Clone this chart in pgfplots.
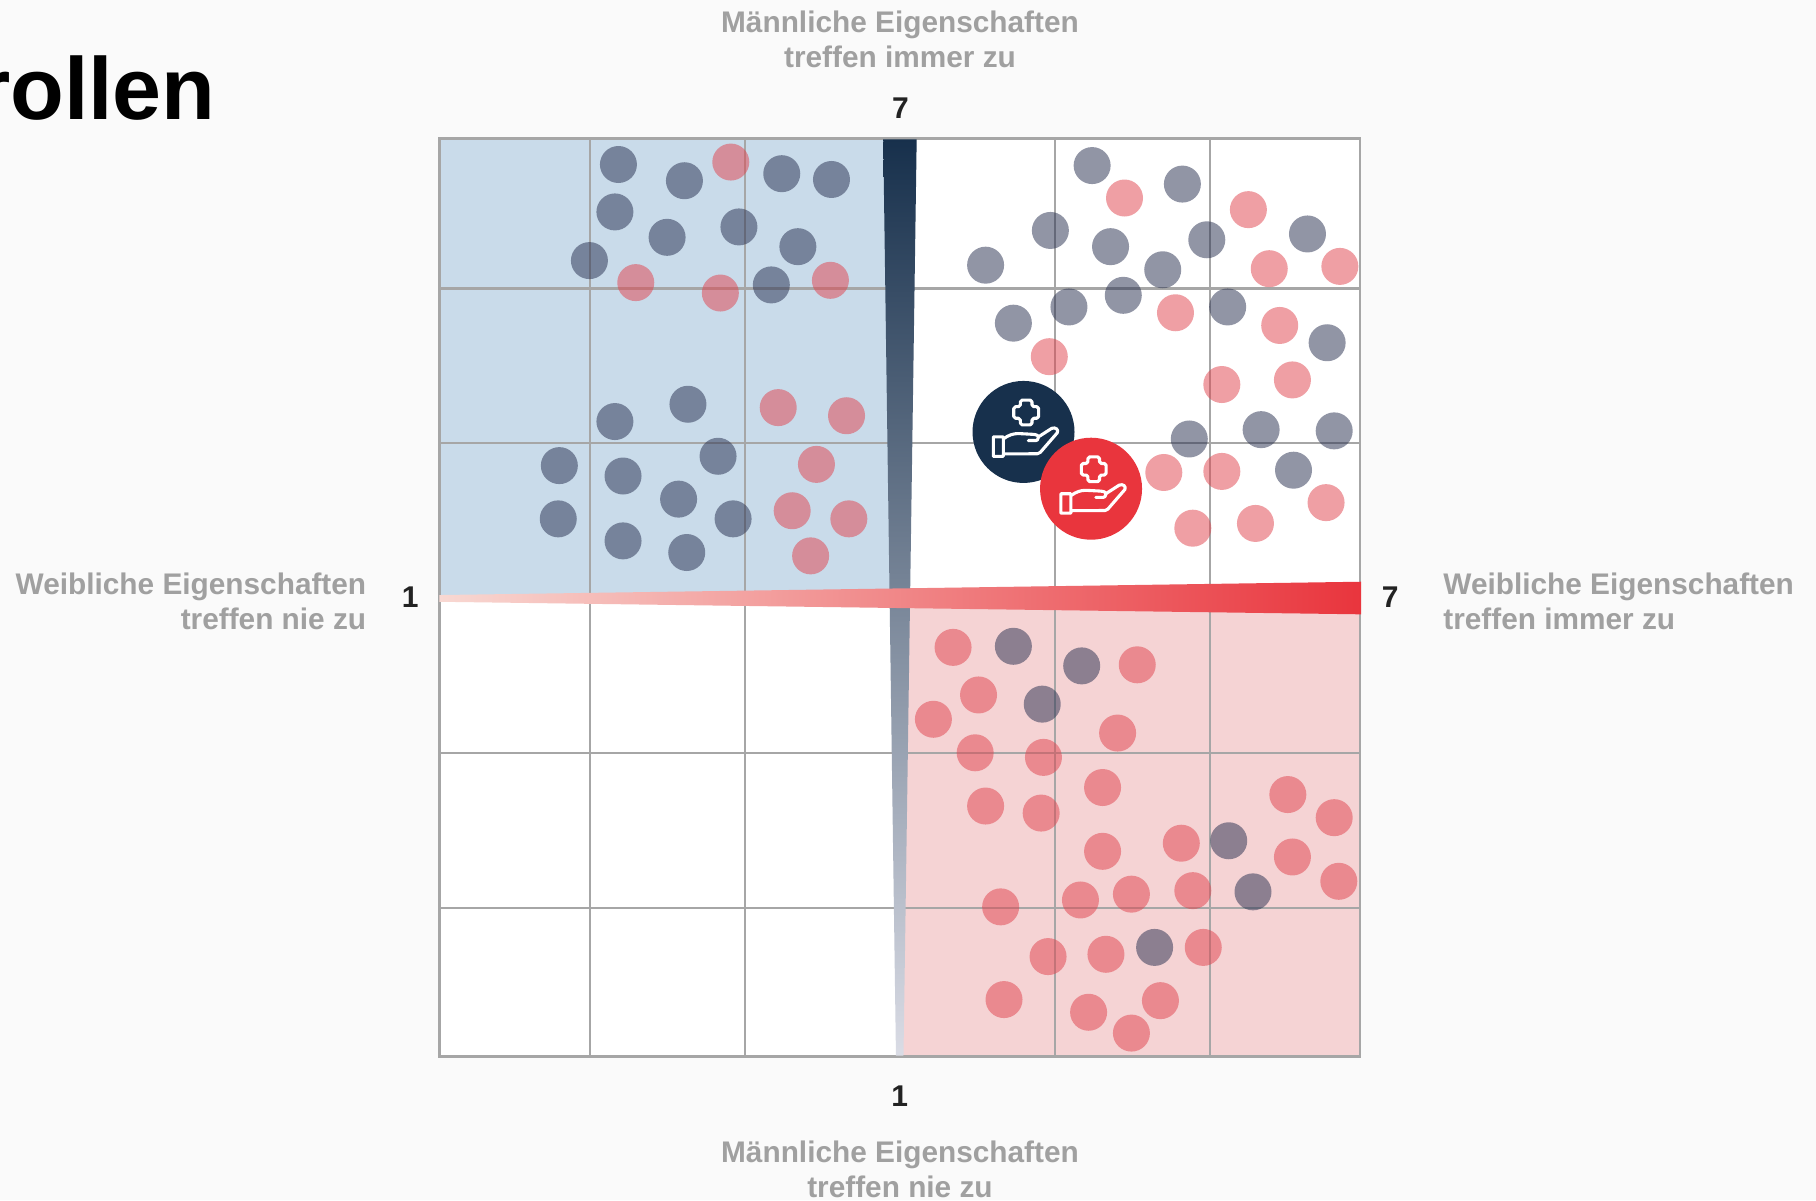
\documentclass[border=0pt]{standalone}
\usepackage{fontspec}
\setmainfont{Liberation Sans}
\usepackage{pgfplots}
\pgfplotsset{compat=1.18}
\definecolor{bg}{HTML}{FAFAFA}
\definecolor{navy}{HTML}{17304C}
\definecolor{rd}{HTML}{E9353D}
\definecolor{dotdark}{HTML}{252D4D}
\definecolor{dotred}{HTML}{E1414B}
\definecolor{bluearea}{HTML}{C9DBEA}
\definecolor{pinkarea}{HTML}{F5D3D4}
\definecolor{gridc}{HTML}{A6A6A6}
\definecolor{lab}{HTML}{A0A0A0}
\definecolor{num}{HTML}{222222}
\definecolor{peach}{HTML}{F8D8D2}
\definecolor{fade}{HTML}{DADCE5}
\pgfdeclareplotmark{disc}{\pgfpathcircle{\pgfpointorigin}{\pgfplotmarksize}\pgfusepathqfill}
\pgfdeclareplotmark{handicon}{%
  \draw[x=1pt,y=1pt,white,line width=1.55pt,line join=round,line cap=round,fill=none,rounded corners=0.9pt]
    (1.33-2.9,9.83+6.1) -- ++(5.8,0) -- ++(0,-3.3) -- ++(3.3,0) -- ++(0,-5.8) -- ++(-3.3,0) -- ++(0,-3.3)
    -- ++(-5.8,0) -- ++(0,3.3) -- ++(-3.3,0) -- ++(0,5.8) -- ++(3.3,0) -- cycle;
  \draw[x=1pt,y=1pt,white,line width=1.55pt,line join=round,line cap=round,fill=none]
    (-15.1,-2.5) rectangle (-10.1,-12.2)
    (-10.1,-3.5) .. controls (-7.5,-1.5) and (-5,-0.8) .. (-2.6,-0.8)
    -- (4.9,-1.2) .. controls (7,-1.4) and (7.8,-2.2) .. (7.4,-2.8)
    .. controls (7.2,-3.9) and (6.8,-4.3) .. (6.2,-4.3) -- (2.4,-4.3)
    (7.4,-2.5) -- (14.1,1.8) .. controls (16.2,2.6) and (17.6,1) .. (16.9,-0.4)
    -- (8.4,-10.2) .. controls (8,-10.7) and (7.6,-10.9) .. (7,-10.9) -- (-10.1,-11);
}
\pgfplotstableread{
x y
2.167 6.830
2.597 6.724
3.231 6.770
3.555 6.732
2.144 6.520
2.484 6.354
2.952 6.422
3.336 6.293
1.978 6.202
3.163 6.043
2.144 5.150
2.620 5.263
1.782 4.862
2.197 4.794
2.816 4.923
2.559 4.643
1.775 4.514
2.197 4.370
2.612 4.294
2.914 4.514
5.253 6.823
5.841 6.702
4.559 6.172
4.981 6.399
5.373 6.293
6.000 6.338
6.656 6.376
5.713 6.142
5.456 5.975
5.102 5.899
4.740 5.793
6.136 5.899
6.784 5.665
6.354 5.097
6.830 5.089
5.886 5.036
6.565 4.832
4.740 3.681
5.185 3.553
4.928 3.303
6.143 2.410
6.301 2.076
5.660 1.713
}\darkdots
\pgfplotstableread{
x y
2.899 6.846
2.280 6.058
2.831 5.990
3.548 6.073
3.208 5.241
3.653 5.188
3.457 4.870
3.299 4.567
3.668 4.514
3.419 4.272
5.464 6.611
6.271 6.535
6.407 6.149
6.867 6.164
5.796 5.861
6.475 5.778
4.974 5.574
6.098 5.392
6.558 5.422
5.720 4.817
6.098 4.824
6.777 4.620
5.909 4.453
6.317 4.484
4.347 3.674
5.547 3.560
4.513 3.363
4.219 3.204
5.419 3.114
4.491 2.985
4.936 2.955
5.321 2.758
4.559 2.637
4.921 2.591
6.528 2.712
6.830 2.561
5.834 2.394
5.321 2.341
6.558 2.304
6.860 2.145
5.909 2.084
5.509 2.061
5.177 2.023
4.657 1.978
5.977 1.713
4.966 1.653
5.343 1.668
4.679 1.372
5.698 1.365
5.230 1.289
5.509 1.153
}\reddots
\begin{document}
\begin{tikzpicture}[x=1pt,y=1pt]
\useasboundingbox (0,0) rectangle (908,600);
\fill[bg] (0,0) rectangle (908,600);
\begin{axis}[
  at={(219.65pt,71.75pt)},anchor=south west,
  scale only axis,width=460.5pt,height=459pt,
  xmin=1,xmax=7,ymin=1,ymax=7,
  xtick=\empty,ytick=\empty,
  clip=false,
  axis line style={draw=none},
  axis background/.style={fill=white},
  unbounded coords=jump,
]
% shaded quadrants
\addplot[fill=bluearea,draw=none,forget plot] coordinates {(1,4)(4,4)(4,7)(1,7)} -- cycle;
\addplot[fill=pinkarea,draw=none,forget plot] coordinates {(4,1)(7,1)(7,4)(4,4)} -- cycle;
% grid and frame
\addplot[gridc,line width=1.2pt,forget plot] coordinates {(1.98,1)(1.98,7)(nan,nan)(2.99,1)(2.99,7)(nan,nan)(5.01,1)(5.01,7)(nan,nan)(6.02,1)(6.02,7)(nan,nan)
  (1,1.97)(7,1.97)(nan,nan)(1,2.985)(7,2.985)(nan,nan)(1,5.01)(7,5.01)(nan,nan)(1,6.02)(7,6.02)};
\addplot[gridc,line width=1.2pt,forget plot] coordinates {(1,1)(7,1)(7,7)(1,7)} -- cycle;
% wedges
\addplot[draw=none,top color=navy,bottom color=fade,forget plot] coordinates {(3.892,6.995)(4.110,6.995)(4.024,1.005)(3.975,1.005)} -- cycle;
\addplot[draw=none,left color=peach,right color=rd,forget plot] coordinates {(1,4.016)(7.005,4.103)(7.005,3.890)(1,3.972)} -- cycle;
% dots
\addplot[only marks,mark=disc,mark size=9.25pt,mark options={fill=dotdark,fill opacity=0.5}] table[x=x,y=y] {\darkdots};
\addplot[only marks,mark=disc,mark size=9.25pt,mark options={fill=dotred,fill opacity=0.5}] table[x=x,y=y] {\reddots};
% big markers
\addplot[only marks,mark=disc,mark size=25.5pt,mark options={fill=navy}] coordinates {(4.806,5.082)};
\addplot[only marks,mark=disc,mark size=25.5pt,mark options={fill=rd}] coordinates {(5.246,4.711)};
\addplot[only marks,mark=handicon] coordinates {(4.806,5.082)(5.246,4.711)};
% scale labels
\node[num,font=\fontsize{15}{15}\selectfont\bfseries] at (axis cs:4.005,7) [yshift=15pt] {7};
\node[num,font=\fontsize{15}{15}\selectfont\bfseries] at (axis cs:4,1) [yshift=-20pt] {1};
\node[num,font=\fontsize{15}{15}\selectfont\bfseries] at (axis cs:1,4) [xshift=-14.5pt] {1};
\node[num,font=\fontsize{15}{15}\selectfont\bfseries] at (axis cs:7,4) [xshift=15pt] {7};
\end{axis}
\tikzset{lbl/.style={lab,inner sep=0pt,font=\fontsize{14.9}{17.4}\selectfont\bfseries,align=center}}
\node[lbl] at (450,580.2) {Männliche Eigenschaften\\treffen immer zu};
\node[lbl] at (450,15.2) {Männliche Eigenschaften\\treffen nie zu};
\node[lbl,align=right,anchor=east] at (183.3,299.4) {Weibliche Eigenschaften\\treffen nie zu};
\node[lbl,align=left,anchor=west] at (721.5,299.4) {Weibliche Eigenschaften\\treffen immer zu};
\node[anchor=base east,inner sep=0pt,font=\fontsize{44}{44}\selectfont\bfseries,text=black] at (108,540) {rollen};
\end{tikzpicture}
\end{document}
